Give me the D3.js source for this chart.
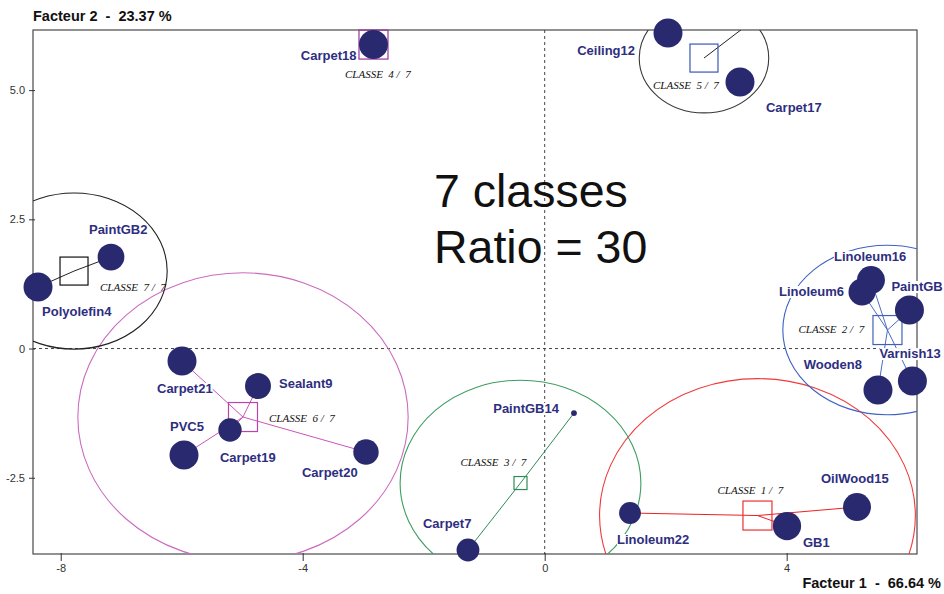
<!DOCTYPE html>
<html><head><meta charset="utf-8">
<script src="https://cdn.jsdelivr.net/npm/d3@7"></script>
<style>
html,body{margin:0;padding:0;background:#fff;}
svg{display:block;}
</style></head>
<body><svg id="chart" width="944" height="594"></svg>
<script>
// ---------- DATA ----------
const pointNames = ["GB1","Linoleum22","OilWood15","Linoleum16","Linoleum6","PaintGB","Varnish13","Wooden8","PaintGB14","Carpet7","Carpet18","Ceiling12","Carpet17","Carpet21","Sealant9","Carpet19","PVC5","Carpet20","PaintGB2","Polyolefin4"];
const factor1 = [4.005, 1.410, 5.162, 5.393, 5.245, 6.029, 6.078, 5.509, 0.484, -1.268, -2.830, 2.038, 3.228, -5.995, -4.739, -5.202, -5.962, -2.954, -7.169, -8.375];
const factor2 = [-3.434, -3.182, -3.066, 1.325, 1.093, 0.745, -0.629, -0.803, -1.248, -3.898, 5.881, 6.104, 5.155, -0.242, -0.725, -1.576, -2.060, -2.002, 1.770, 1.190];
const weights = [0.95, 0.57, 0.93, 0.93, 0.87, 1, 1, 1, 0.04, 0.62, 1, 1, 1, 1, 0.8, 0.65, 1, 0.77, 0.85, 1];
const classOf = [1,1,1,2,2,2,2,2,3,3,4,5,5,6,6,6,6,6,7,7];

const classIds = [1,2,3,4,5,6,7];
const classLabels = ["CLASSE  1 /  7","CLASSE  2 /  7","CLASSE  3 /  7","CLASSE  4 /  7","CLASSE  5 /  7","CLASSE  6 /  7","CLASSE  7 /  7"];
const classF1 = [3.517, 5.666, -0.400, -2.830, 2.633, -4.987, -7.780];
const classF2 = [-3.231, 0.358, -2.602, 5.881, 5.620, -1.325, 1.499];
const classRadF1 = [2.61, 1.73, 1.99, 0, 1.07, 2.73, 1.54];
const classRadF2 = [2.65, 1.64, 1.99, 0, 1.06, 2.79, 1.51];
// class 5: link toward a member outside the frame, its two visible members are not linked
const extraLinkClass = [5];
const extraLinkF1 = [3.45];
const extraLinkF2 = [6.35];

const xTicks = [-8, -4, 0, 4];
const xTickLabels = ["-8", "-4", "0", "4"];
const yTicks = [-2.5, 0, 2.5, 5.0];
const yTickLabels = ["-2.5", "0", "2.5", "5.0"];
const xTitle = "Facteur 1  -  66.64 %";
const yTitle = "Facteur 2  -  23.37 %";
const noteLines = ["7 classes", "Ratio = 30"];

// ---------- LAYOUT / STYLE ----------
const plot = {left: 33, right: 917, top: 30, bottom: 554};
const labelLayout = [ // anchor, dx, dy (px from point centre)
  ["start",16,21],["start",-13,31],["start",-36,-24],["start",-37,-19],["end",-18,4],
  ["start",-18,-19],["start",-33,-23],["end",-16,-21],["end",-15,0],["start",-45,-22],
  ["end",-17,15],["end",-33,22],["start",26,30],["start",-25,32],["start",21,2],
  ["start",-10,32],["start",-14,-24],["start",-64,25],["start",-22,-23],["start",4,29]
];
const classLayout = [ // label dx, dy, square size
  [-40,-22,29],[-89,3,29],[-60,-17,13],[-28.5,33.5,29],[-51,31,28],[26,5,29],[26,20,28]
];
const classStyle = [
  {line:"#ee2020", sq:"#ee3030", ell:"#f03a3a"},
  {line:"#4a6cc0", sq:"#3f62b8", ell:"#3d62c0"},
  {line:"#2e8b57", sq:"#2e8b57", ell:"#3d9d62"},
  {line:"#993399", sq:"#993399", ell:"#993399"},
  {line:"#222222", sq:"#3858b8", ell:"#3a3a3a"},
  {line:"#cc55bb", sq:"#bb44aa", ell:"#cc6bc0"},
  {line:"#222222", sq:"#111111", ell:"#222222"}
];
const pointColor = "#29296f";
const labelColor = "#2e2e80";

// ---------- SCALES ----------
const x = d3.scaleLinear().domain([-8.458, 6.154]).range([plot.left, plot.right]);
const y = d3.scaleLinear().domain([-3.975, 6.163]).range([plot.bottom, plot.top]);
const r = d3.scaleSqrt().domain([0, 1]).range([0, 14.5]);

const svg = d3.select("#chart");
svg.append("defs").append("clipPath").attr("id","plotclip")
  .append("rect").attr("x",plot.left).attr("y",plot.top)
  .attr("width",plot.right-plot.left).attr("height",plot.bottom-plot.top);

// frame
svg.append("rect").attr("x",plot.left).attr("y",plot.top)
  .attr("width",plot.right-plot.left).attr("height",plot.bottom-plot.top)
  .attr("fill","none").attr("stroke","#4a4a4a").attr("stroke-width",1.2);

// dashed zero lines
svg.append("line").attr("x1",plot.left).attr("x2",plot.right).attr("y1",y(0)).attr("y2",y(0))
  .attr("stroke","#444").attr("stroke-dasharray","3,3");
svg.append("line").attr("x1",x(0)).attr("x2",x(0)).attr("y1",plot.top).attr("y2",plot.bottom)
  .attr("stroke","#444").attr("stroke-dasharray","3,3");

// axes
const xAxis = d3.axisBottom(x).tickValues(xTicks).tickFormat((d,i)=>xTickLabels[i]).tickSize(7).tickSizeOuter(0);
const gx = svg.append("g").attr("transform",`translate(0,${plot.bottom})`).call(xAxis);
gx.select(".domain").remove();
gx.selectAll("line").attr("stroke","#333").attr("y1",-1);
gx.selectAll("text").attr("fill","#333").attr("font-family","Liberation Sans, Arial, sans-serif").attr("font-size",11).attr("dy","0.95em").attr("y",8);

const yAxis = d3.axisLeft(y).tickValues(yTicks).tickFormat((d,i)=>yTickLabels[i]).tickSize(4).tickSizeOuter(0);
const gy = svg.append("g").attr("transform",`translate(${plot.left},0)`).call(yAxis);
gy.select(".domain").remove();
gy.selectAll("line").attr("stroke","#333").attr("x2",-4).attr("x1",2);
gy.selectAll("text").attr("fill","#333").attr("font-family","Liberation Sans, Arial, sans-serif").attr("font-size",11).attr("x",-8);

// titles
svg.append("text").attr("x",33).attr("y",21).attr("xml:space","preserve").style("white-space","pre").text(yTitle)
  .attr("font-family","Liberation Sans, Arial, sans-serif").attr("font-weight","bold").attr("font-size",14.5).attr("fill","#111");
svg.append("text").attr("x",941).attr("y",588).attr("text-anchor","end").attr("xml:space","preserve").style("white-space","pre").text(xTitle)
  .attr("font-family","Liberation Sans, Arial, sans-serif").attr("font-weight","bold").attr("font-size",14.5).attr("fill","#111");

// big note
const note = svg.append("text").attr("font-family","Liberation Sans, Arial, sans-serif").attr("font-size",46.5).attr("fill","#111");
noteLines.forEach((t,i)=>note.append("tspan").attr("x",434).attr("y",207+i*56).text(t));

// ellipses (clipped)
const clipG = svg.append("g").attr("clip-path","url(#plotclip)");
classIds.forEach((c,i)=>{
  if (classRadF1[i] <= 0) return;
  clipG.append("ellipse")
    .attr("cx",x(classF1[i])).attr("cy",y(classF2[i]))
    .attr("rx",x(classF1[i]+classRadF1[i])-x(classF1[i]))
    .attr("ry",y(classF2[i])-y(classF2[i]+classRadF2[i]))
    .attr("fill","none").attr("stroke",classStyle[i].ell).attr("stroke-width",1.1);
});

// links centre -> members
pointNames.forEach((n,i)=>{
  const ci = classOf[i]-1;
  if (extraLinkClass.includes(classOf[i])) return;
  clipG.append("line")
    .attr("x1",x(classF1[ci])).attr("y1",y(classF2[ci]))
    .attr("x2",x(factor1[i])).attr("y2",y(factor2[i]))
    .attr("stroke",classStyle[ci].line).attr("stroke-width",1);
});
extraLinkClass.forEach((c,k)=>{
  const ci = c-1;
  clipG.append("line")
    .attr("x1",x(classF1[ci])).attr("y1",y(classF2[ci]))
    .attr("x2",x(extraLinkF1[k])).attr("y2",y(extraLinkF2[k]))
    .attr("stroke",classStyle[ci].line).attr("stroke-width",1);
});

// class squares
classIds.forEach((c,i)=>{
  const s = classLayout[i][2];
  svg.append("rect")
    .attr("x",x(classF1[i])-s/2).attr("y",y(classF2[i])-s/2)
    .attr("width",s).attr("height",s)
    .attr("fill","none").attr("stroke",classStyle[i].sq).attr("stroke-width",1.2);
});

// class labels
classIds.forEach((c,i)=>{
  svg.append("text")
    .attr("x",x(classF1[i])+classLayout[i][0]).attr("y",y(classF2[i])+classLayout[i][1])
    .attr("font-family","Liberation Serif, Times New Roman, serif").attr("font-style","italic")
    .attr("font-size",11).attr("fill","#111").style("white-space","pre")
    .attr("xml:space","preserve")
    .text(classLabels[i]);
});

// points
svg.append("g").selectAll("circle").data(pointNames).join("circle")
  .attr("cx",(d,i)=>x(factor1[i])).attr("cy",(d,i)=>y(factor2[i]))
  .attr("r",(d,i)=>r(weights[i])).attr("fill",pointColor);

// point labels with white background
const lg = svg.append("g");
pointNames.forEach((n,i)=>{
  const L = labelLayout[i];
  const g = lg.append("g");
  const t = g.append("text")
    .attr("x",x(factor1[i])+L[1]).attr("y",y(factor2[i])+L[2])
    .attr("text-anchor",L[0])
    .attr("font-family","Liberation Sans, Arial, sans-serif").attr("font-weight","bold")
    .attr("font-size",13).attr("fill",labelColor).text(n);
  const bb = t.node().getBBox();
  g.insert("rect","text").attr("x",bb.x).attr("y",bb.y+2).attr("width",bb.width).attr("height",bb.height-3).attr("fill","#fff");
});
</script>
</body></html>
